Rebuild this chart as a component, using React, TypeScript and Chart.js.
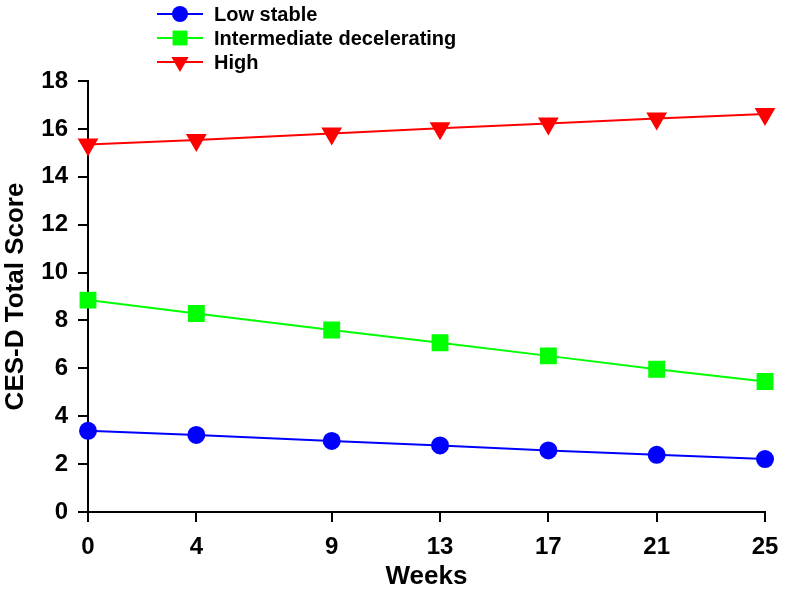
import React, { useEffect, useRef } from "react";
import { Chart, registerables } from "chart.js";

Chart.register(...registerables);

const weeks = [0, 4, 9, 13, 17, 21, 25];
const lowStable = [3.39, 3.22, 2.97, 2.78, 2.57, 2.39, 2.21];
const intermediate = [8.85, 8.29, 7.6, 7.07, 6.52, 5.96, 5.45];
const high = [15.35, 15.54, 15.81, 16.03, 16.22, 16.43, 16.62];
const seriesNames = ["Low stable", "Intermediate decelerating", "High"];
const yTicks = [0, 2, 4, 6, 8, 10, 12, 14, 16, 18];

const FONT = "'Liberation Sans', Arial, Helvetica, sans-serif";

const legendPlugin = {
  id: "vertLegend",
  afterDraw(chart: any) {
    const ctx = chart.ctx;
    const rows = [14, 38, 62];
    chart.data.datasets.forEach((ds: any, i: number) => {
      const y = rows[i];
      ctx.save();
      ctx.strokeStyle = ds.borderColor;
      ctx.lineWidth = 2;
      ctx.beginPath();
      ctx.moveTo(157, y);
      ctx.lineTo(203, y);
      ctx.stroke();
      ctx.fillStyle = ds.pointBackgroundColor;
      const cx = 180;
      const r = ds.pointRadius;
      ctx.beginPath();
      if (ds.pointStyle === "circle") {
        ctx.arc(cx, y, r, 0, Math.PI * 2);
      } else if (ds.pointStyle === "rect") {
        const s = Math.SQRT1_2 * r;
        ctx.rect(cx - s, y - s, 2 * s, 2 * s);
      } else {
        const w = r * Math.sin(Math.PI / 3);
        ctx.moveTo(cx, y + r);
        ctx.lineTo(cx - w, y - r / 2);
        ctx.lineTo(cx + w, y - r / 2);
        ctx.closePath();
      }
      ctx.fill();
      ctx.fillStyle = "#000";
      ctx.font = `bold 20px ${FONT}`;
      ctx.textBaseline = "middle";
      ctx.textAlign = "left";
      ctx.fillText(ds.label, 214, y + 1);
      ctx.restore();
    });
  },
};

export default function App() {
  const ref = useRef<HTMLCanvasElement>(null);
  useEffect(() => {
    if (!ref.current) return;
    const mk = (vals: number[]) => vals.map((v, i) => ({ x: weeks[i], y: v }));
    const chart = new Chart(ref.current, {
      type: "line",
      data: {
        datasets: [
          {
            label: seriesNames[0],
            data: mk(lowStable),
            borderColor: "#0000ff",
            backgroundColor: "#0000ff",
            pointBackgroundColor: "#0000ff",
            pointBorderColor: "#0000ff",
            pointStyle: "circle",
            pointRadius: 8,
            borderWidth: 2,
            clip: false,
          } as any,
          {
            label: seriesNames[1],
            data: mk(intermediate),
            borderColor: "#00ff00",
            backgroundColor: "#00ff00",
            pointBackgroundColor: "#00ff00",
            pointBorderColor: "#00ff00",
            pointStyle: "rect",
            pointRadius: 10.5,
            borderWidth: 2,
            clip: false,
          },
          {
            label: seriesNames[2],
            data: mk(high),
            borderColor: "#ff0000",
            backgroundColor: "#ff0000",
            pointBackgroundColor: "#ff0000",
            pointBorderColor: "#ff0000",
            pointStyle: "triangle",
            pointRotation: 180,
            pointRadius: 10,
            borderWidth: 2,
            clip: false,
          },
        ],
      },
      options: {
        responsive: false,
        animation: false,
        layout: { padding: { top: 81, right: 35, left: 0, bottom: 0 } },
        plugins: { legend: { display: false }, tooltip: { enabled: false } },
        scales: {
          x: {
            type: "linear",
            min: 0,
            max: 25,
            afterBuildTicks: (s: any) => {
              s.ticks = weeks.map((v) => ({ value: v }));
            },
            afterFit: (s: any) => {
              s.height = 80;
            },
            grid: { drawOnChartArea: false, color: "#000", lineWidth: 2, tickLength: 10 },
            border: { color: "#000", width: 2 },
            ticks: {
              color: "#000",
              font: { family: FONT, size: 24, weight: "bold" },
              padding: 11,
              maxRotation: 0,
            },
            title: {
              display: true,
              text: "Weeks",
              color: "#000",
              font: { family: FONT, size: 26, weight: "bold" },
              padding: { top: 0, bottom: 0 },
            },
          },
          y: {
            type: "linear",
            min: 0,
            max: 18,
            afterBuildTicks: (s: any) => {
              s.ticks = yTicks.map((v) => ({ value: v }));
            },
            afterFit: (s: any) => {
              s.width = 88;
            },
            grid: { drawOnChartArea: false, color: "#000", lineWidth: 2, tickLength: 10 },
            border: { color: "#000", width: 2 },
            ticks: {
              color: "#000",
              font: { family: FONT, size: 24, weight: "bold" },
              padding: 10,
            },
            title: {
              display: true,
              text: "CES-D Total Score",
              color: "#000",
              font: { family: FONT, size: 26, weight: "bold" },
              padding: { top: 0, bottom: 4 },
            },
          },
        },
      },
      plugins: [legendPlugin],
    });
    return () => chart.destroy();
  }, []);
  return (
    <div style={{ position: "absolute", left: 0, top: 0, width: 800, height: 592, background: "#fff" }}>
      <canvas ref={ref} width={800} height={592} />
    </div>
  );
}
